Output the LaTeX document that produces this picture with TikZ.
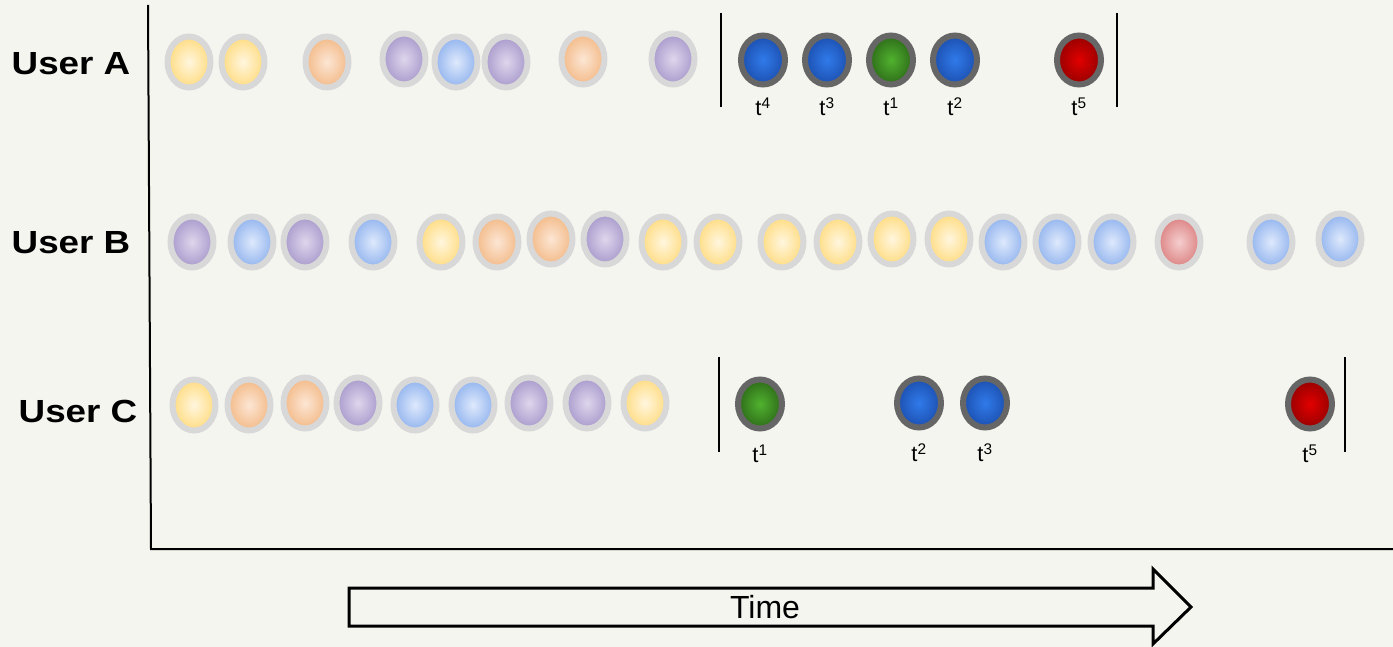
\documentclass[tikz,border=0pt]{standalone}
\usepackage{fontspec}
\setmainfont{Liberation Sans}
\usetikzlibrary{shapes.geometric,positioning}

\definecolor{bgcol}{RGB}{245,245,240}
\definecolor{ringlight}{RGB}{216,216,216}
\definecolor{ringdark}{RGB}{102,102,102}
\definecolor{yelin}{RGB}{255,246,222}\definecolor{yelout}{RGB}{255,220,130}
\definecolor{orain}{RGB}{252,230,212}\definecolor{oraout}{RGB}{243,186,136}
\definecolor{purin}{RGB}{222,214,236}\definecolor{purout}{RGB}{168,154,204}
\definecolor{bluin}{RGB}{222,233,252}\definecolor{bluout}{RGB}{146,180,238}
\definecolor{pinin}{RGB}{245,206,206}\definecolor{pinout}{RGB}{220,130,130}
\definecolor{dbluin}{RGB}{48,122,234}\definecolor{dbluout}{RGB}{28,80,176}
\definecolor{dgrein}{RGB}{80,178,46}\definecolor{dgreout}{RGB}{46,108,26}
\definecolor{dredin}{RGB}{226,0,0}\definecolor{dredout}{RGB}{150,0,0}

\begin{document}
\begin{tikzpicture}[x=1pt, y=-1pt]

    \tikzset{light/.style={shape=ellipse,draw=ringlight,line width=6pt,inner sep=0pt,
                           minimum width=43pt,minimum height=51pt},
             dark/.style={shape=ellipse,draw=ringdark,line width=6pt,inner sep=0pt,
                          minimum width=44pt,minimum height=49pt},
             yel/.style={light,inner color=yelin,outer color=yelout},
             ora/.style={light,inner color=orain,outer color=oraout},
             pur/.style={light,inner color=purin,outer color=purout},
             blu/.style={light,inner color=bluin,outer color=bluout},
             pin/.style={light,inner color=pinin,outer color=pinout},
             dblu/.style={dark,inner color=dbluin,outer color=dbluout},
             dgre/.style={dark,inner color=dgrein,outer color=dgreout},
             dred/.style={dark,inner color=dredin,outer color=dredout},
             user/.style={font=\fontsize{32}{36}\selectfont\bfseries,xscale=1.15,inner sep=0pt},
             tlabel/.style={font=\fontsize{22}{25}\selectfont,inner sep=0pt},
             bar/.style={line width=2pt}}

    \fill[bgcol] (0,0) rectangle (1393,647);
    \useasboundingbox (0,0) rectangle (1393,647);

    % axes
    \coordinate (ytop) at (148,5);
    \coordinate (origin) at (151,549);
    \coordinate (xend) at (1393,549);
    \draw[line width=2pt] (ytop) -- (origin) -- (xend);

    \node[user] (ua) at (71,64) {User A};
    \node[user] (ub) at (71,243) {User B};
    \node[user] (uc) at (78,411) {User C};

    % User A
    \node[yel] (a1) at (189,62) {};
    \node[yel] (a2) at (243,62) {};
    \node[ora] (a3) at (327,62) {};
    \node[pur] (a4) at (404,59) {};
    \node[blu] (a5) at (456,62) {};
    \node[pur] (a6) at (506,62) {};
    \node[ora] (a7) at (583,59) {};
    \node[pur] (a8) at (673,59) {};

    \node[dblu] (ta4) at (763,60) {};
    \node[dblu] (ta3) at (827,60) {};
    \node[dgre] (ta1) at (891,60) {};
    \node[dblu] (ta2) at (955,60) {};
    \node[dred] (ta5) at (1079,60) {};

    \node[tlabel, below=10pt of ta4] (la4) {t\textsuperscript{4}};
    \node[tlabel, below=10pt of ta3] (la3) {t\textsuperscript{3}};
    \node[tlabel, below=10pt of ta1] (la1) {t\textsuperscript{1}};
    \node[tlabel, below=10pt of ta2] (la2) {t\textsuperscript{2}};
    \node[tlabel, below=10pt of ta5] (la5) {t\textsuperscript{5}};

    \coordinate (ba1) at (721,13);  \coordinate (ba2) at (721,107);
    \coordinate (ba3) at (1117,13); \coordinate (ba4) at (1117,107);
    \draw[bar] (ba1) -- (ba2);
    \draw[bar] (ba3) -- (ba4);

    % User B
    \node[pur] (b1) at (192,242) {};
    \node[blu] (b2) at (252,242) {};
    \node[pur] (b3) at (305,242) {};
    \node[blu] (b4) at (373,242) {};
    \node[yel] (b5) at (441,242) {};
    \node[ora] (b6) at (497,242) {};
    \node[ora] (b7) at (551,239) {};
    \node[pur] (b8) at (605,239) {};
    \node[yel] (b9) at (663,242) {};
    \node[yel] (b10) at (718,242) {};
    \node[yel] (b11) at (782,242) {};
    \node[yel] (b12) at (838,242) {};
    \node[yel] (b13) at (892,239) {};
    \node[yel] (b14) at (949,239) {};
    \node[blu] (b15) at (1003,242) {};
    \node[blu] (b16) at (1057,242) {};
    \node[blu] (b17) at (1112,242) {};
    \node[pin] (b18) at (1179,242) {};
    \node[blu] (b19) at (1271,242) {};
    \node[blu] (b20) at (1340,239) {};

    % User C
    \node[yel] (c1) at (194,405) {};
    \node[ora] (c2) at (249,405) {};
    \node[ora] (c3) at (305,403) {};
    \node[pur] (c4) at (358,403) {};
    \node[blu] (c5) at (415,405) {};
    \node[blu] (c6) at (473,405) {};
    \node[pur] (c7) at (529,403) {};
    \node[pur] (c8) at (587,403) {};
    \node[yel] (c9) at (645,403) {};

    \node[dgre] (tc1) at (760,404) {};
    \node[dblu] (tc2) at (919,403) {};
    \node[dblu] (tc3) at (985,403) {};
    \node[dred] (tc5) at (1310,404) {};

    \node[tlabel, below=13pt of tc1] (lc1) {t\textsuperscript{1}};
    \node[tlabel, below=13pt of tc2] (lc2) {t\textsuperscript{2}};
    \node[tlabel, below=13pt of tc3] (lc3) {t\textsuperscript{3}};
    \node[tlabel, below=13pt of tc5] (lc5) {t\textsuperscript{5}};

    \coordinate (bc1) at (719,357);  \coordinate (bc2) at (719,452);
    \coordinate (bc3) at (1345,357); \coordinate (bc4) at (1345,452);
    \draw[bar] (bc1) -- (bc2);
    \draw[bar] (bc3) -- (bc4);

    % time arrow
    \draw[line width=3pt, line join=miter]
        (349,588) -- (1153,588) -- (1153,569) -- (1191,607)
        -- (1153,644) -- (1153,626) -- (349,626) -- cycle;
    \node[font=\fontsize{32}{35}\selectfont, inner sep=0pt] (time) at (765,607) {Time};

\end{tikzpicture}
\end{document}
